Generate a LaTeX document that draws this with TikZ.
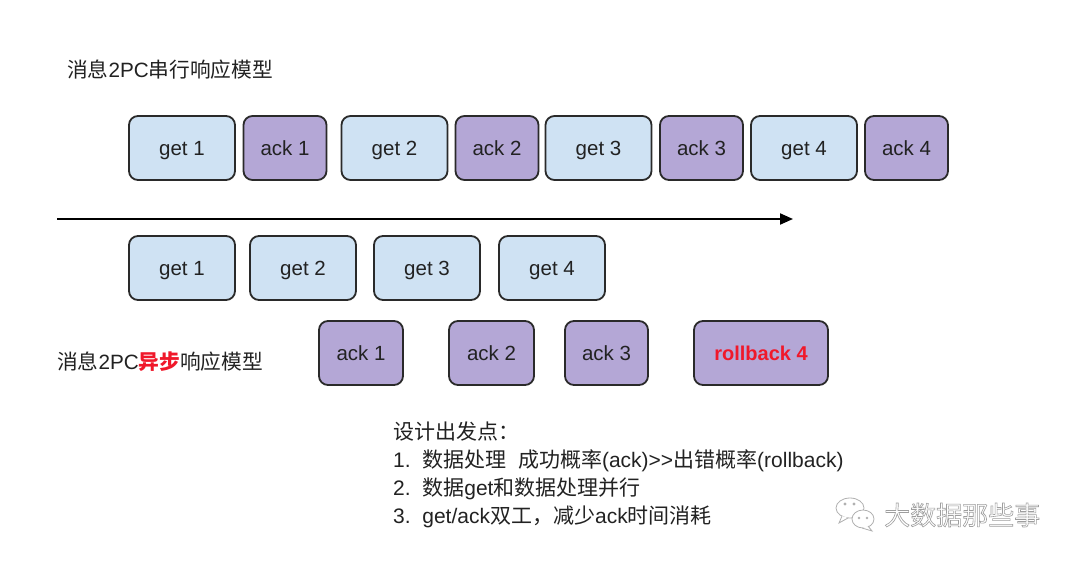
\documentclass[tikz,border=0pt]{standalone}
\usepackage{fontspec}
\setmainfont{Liberation Sans}
\newfontfamily\cjk{Noto Sans CJK SC}
\usetikzlibrary{arrows.meta}
\definecolor{getfill}{HTML}{CFE2F3}
\definecolor{ackfill}{HTML}{B4A7D6}
\definecolor{edge}{HTML}{2A2A2A}
\definecolor{ink}{HTML}{222222}
\definecolor{alert}{HTML}{F0182A}
\definecolor{wm}{HTML}{B0B0B0}
\begin{document}
\begin{tikzpicture}[x=1pt,y=-1pt,
  box/.style={draw=edge, line width=1.8pt, rounded corners=9pt, minimum height=64pt,
    inner sep=0pt, text height=14.3pt, text depth=0pt, text=ink, font=\fontsize{20.5}{24}\selectfont},
  getbox/.style={box, fill=getfill, minimum width=106pt},
  ackbox/.style={box, fill=ackfill, minimum width=83pt},
  title/.style={anchor=west, inner sep=0pt, text=ink, font=\fontsize{20.7}{24}\selectfont},
  note/.style={anchor=west, inner sep=0pt, text=ink, font=\fontsize{21}{25}\selectfont},
  timeline/.style={line width=2pt, draw=black, -{Triangle[length=13pt,width=11pt]}},
  wmline/.style={draw=wm, line width=0.8pt, fill=white}]
\useasboundingbox[fill=white] (0,0) rectangle (1080,564);

% serial model
\node[title] (t1) at (67,70) {{\cjk 消息}2PC{\cjk 串行响应模型}};
\node[getbox] (sg1) at (182,148) {get 1};
\node[ackbox] (sa1) at (285,148) {ack 1};
\node[getbox] (sg2) at (394.5,148) {get 2};
\node[ackbox] (sa2) at (497,148) {ack 2};
\node[getbox] (sg3) at (598.5,148) {get 3};
\node[ackbox] (sa3) at (701.5,148) {ack 3};
\node[getbox] (sg4) at (804,148) {get 4};
\node[ackbox] (sa4) at (906.5,148) {ack 4};

% time axis
\coordinate (tstart) at (57,219);
\coordinate (tend) at (793,219);
\draw[timeline] (tstart) -- (tend);

% async model
\node[getbox] (ag1) at (182,268) {get 1};
\node[getbox] (ag2) at (303,268) {get 2};
\node[getbox] (ag3) at (427,268) {get 3};
\node[getbox] (ag4) at (552,268) {get 4};
\node[ackbox, minimum width=84pt] (aa1) at (361,353) {ack 1};
\node[ackbox, minimum width=85pt] (aa2) at (491.5,353) {ack 2};
\node[ackbox] (aa3) at (606.5,353) {ack 3};
\node[ackbox, minimum width=134pt, text=alert, font=\fontsize{20}{24}\selectfont\bfseries] (rb4) at (761,353) {rollback 4};
\node[title] (t2) at (57,362) {{\cjk 消息}2PC{\cjk\color{alert}\bfseries 异步}{\cjk 响应模型}};

% design notes
\node[note] (n0) at (393,432) {\cjk 设计出发点：};
\node[note] (n1) at (393,461) {1.\ \ {\cjk 数据处理}\ \ {\cjk 成功概率}(ack)>{}>{\cjk 出错概率}(rollback)};
\node[note] (n2) at (393,489) {2.\ \ {\cjk 数据}get{\cjk 和数据处理并行}};
\node[note] (n3) at (393,517) {3.\ \ get/ack{\cjk 双工，减少}ack{\cjk 时间消耗}};

% watermark
\begin{scope}
  \draw[wmline] (850,508) ellipse (14 and 10);
  \draw[wmline] (842,516) -- (839,523) -- (848,518);
  \draw[wmline] (863,519) ellipse (11 and 9);
  \draw[wmline] (868,526) -- (872,531) -- (862,528);
  \fill[wm] (845,504) circle (1.6);
  \fill[wm] (854,504) circle (1.6);
  \fill[wm] (859,518) circle (1.3);
  \fill[wm] (867,518) circle (1.3);
\end{scope}
\node[anchor=west, inner sep=0pt, text=white, font=\fontsize{26}{30}\selectfont] (wmtext) at (884,515)
  {\special{pdf:literal direct 1 Tr 0.6 w 0.62 G}\cjk 大数据那些事\special{pdf:literal direct 0 Tr}};
\end{tikzpicture}
\end{document}
